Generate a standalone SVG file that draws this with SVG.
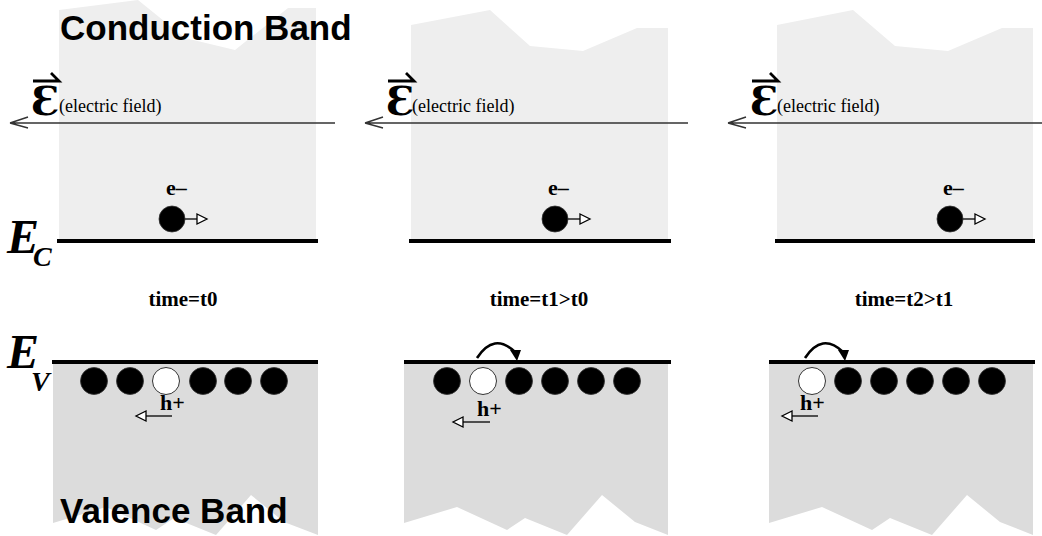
<svg xmlns="http://www.w3.org/2000/svg" width="1042" height="536" viewBox="0 0 1042 536">
<defs>
<style>
.cb{fill:#eeeeee}
.vb{fill:#dcdcdc}
.lvl{stroke:#000;stroke-width:4}
.fld{stroke:#333;stroke-width:1.4;fill:none}
.thin{stroke:#000;stroke-width:1.3;fill:none}
.head{fill:#fff;stroke:#000;stroke-width:1.3}
.el{fill:#000;stroke:#333;stroke-width:0.8}
.hole{fill:#fff;stroke:#333;stroke-width:1}
.big{font-family:"Liberation Sans",Arial,sans-serif;font-weight:bold;font-size:35px;fill:#000}
.lab{font-family:"Liberation Serif","Times New Roman",serif;font-weight:bold;font-size:22px;fill:#000}
.time{font-family:"Liberation Serif","Times New Roman",serif;font-weight:bold;font-size:21px;fill:#000}
.eps{font-family:"DejaVu Serif",serif;font-weight:bold;font-size:40px;fill:#000}
.ef{font-family:"Liberation Serif","Times New Roman",serif;font-size:18px;fill:#000}
.E{font-family:"Liberation Serif","Times New Roman",serif;font-weight:bold;font-style:italic;font-size:48px;fill:#000}
.curve{stroke:#000;stroke-width:2.6;fill:none}
</style>
</defs>

<g id="bands">
<polygon class="cb" points="59,10 138,0 185,38 235,50 288,8 316,8 316,241 59,241"/>
<polygon class="cb" points="411,25 490,10 530,46 583,51 637,28 668,28 668,241 411,241"/>
<polygon class="cb" points="777,25 853,10 895,46 948,51 1002,28 1033,28 1033,241 777,241"/>
<polygon class="vb" points="53,362 318,362 318,535 284,522 251,495 216,535 174,518 156,530 106,507 53,523"/>
<polygon class="vb" points="404,362 668,362 668,535 635,522 602,495 567,535 525,518 507,530 457,507 404,523"/>
<polygon class="vb" points="769,362 1033,362 1033,535 1000,522 967,495 932,535 890,518 872,530 822,507 769,523"/>
</g>

<g id="titles">
<text class="big" x="60" y="40">Conduction Band</text>
<text class="big" x="60" y="523">Valence Band</text>
</g>

<g id="level-labels">
<text class="E" x="7" y="253">E<tspan font-size="28" dx="-6" dy="13">C</tspan></text>
<text class="E" x="7" y="368">E<tspan font-size="28" dx="-8" dy="23">V</tspan></text>
</g>

<g id="connectors">
<line class="lvl" x1="57" y1="241" x2="318" y2="241"/>
<line class="lvl" x1="409" y1="241" x2="671" y2="241"/>
<line class="lvl" x1="775" y1="241" x2="1035" y2="241"/>
<line class="lvl" x1="52" y1="362" x2="318" y2="362"/>
<line class="lvl" x1="404" y1="362" x2="671" y2="362"/>
<line class="lvl" x1="769" y1="362" x2="1035" y2="362"/>

<path class="fld" d="M10,123 H335 M10,123 L28,117 M10,123 L28,128"/>
<path class="fld" d="M365,123 H688 M365,123 L383,117 M365,123 L383,128"/>
<path class="fld" d="M728,123 H1042 M728,123 L746,117 M728,123 L746,128"/>

<line class="thin" x1="185" y1="219" x2="197" y2="219"/>
<polygon class="head" points="197,214 207,219 197,224"/>
<line class="thin" x1="568" y1="219" x2="580" y2="219"/>
<polygon class="head" points="580,214 590,219 580,224"/>
<line class="thin" x1="963" y1="219" x2="975" y2="219"/>
<polygon class="head" points="975,214 985,219 975,224"/>

<line class="thin" x1="172" y1="416" x2="146" y2="416"/>
<polygon class="head" points="146,411 136,416 146,421"/>
<line class="thin" x1="490" y1="422" x2="463" y2="422"/>
<polygon class="head" points="463,417 453,422 463,427"/>
<line class="thin" x1="818" y1="416" x2="792" y2="416"/>
<polygon class="head" points="792,411 782,416 792,421"/>

<path class="curve" d="M477,358 Q494,332 515,352"/>
<polygon points="510,350 521,350 517,361" fill="#000"/>
<path class="curve" d="M805,358 Q822,332 843,352"/>
<polygon points="838,350 849,350 845,361" fill="#000"/>
</g>

<g id="field1">
<text class="eps" x="31" y="115">Ɛ</text>
<path d="M33,81 H59 L51,73" stroke="#000" stroke-width="2.8" fill="none"/>
<text class="ef" x="59" y="112">(electric field)</text>
</g>
<g id="field2">
<text class="eps" x="386" y="115">Ɛ</text>
<path d="M388,81 H414 L406,73" stroke="#000" stroke-width="2.8" fill="none"/>
<text class="ef" x="412" y="112">(electric field)</text>
</g>
<g id="field3">
<text class="eps" x="750" y="115">Ɛ</text>
<path d="M752,81 H778 L770,73" stroke="#000" stroke-width="2.8" fill="none"/>
<text class="ef" x="777" y="112">(electric field)</text>
</g>

<g id="electron1">
<circle class="el" cx="172" cy="219" r="13"/>
<text class="lab" x="166" y="195">e–</text>
</g>
<g id="electron2">
<circle class="el" cx="555" cy="219" r="13"/>
<text class="lab" x="548" y="195">e–</text>
</g>
<g id="electron3">
<circle class="el" cx="950" cy="219" r="13"/>
<text class="lab" x="943" y="195">e–</text>
</g>

<g id="time-labels">
<text class="time" x="183" y="306" text-anchor="middle">time=t0</text>
<text class="time" x="539" y="306" text-anchor="middle">time=t1&gt;t0</text>
<text class="time" x="904" y="306" text-anchor="middle">time=t2&gt;t1</text>
</g>

<g id="valence1">
<circle class="el" cx="94" cy="381" r="13.5"/>
<circle class="el" cx="130" cy="381" r="13.5"/>
<circle class="hole" cx="166" cy="381" r="13.5"/>
<circle class="el" cx="203" cy="381" r="13.5"/>
<circle class="el" cx="238" cy="381" r="13.5"/>
<circle class="el" cx="274" cy="381" r="13.5"/>
<text class="lab" x="160" y="410">h+</text>
</g>
<g id="valence2">
<circle class="el" cx="447" cy="381" r="13.5"/>
<circle class="hole" cx="483" cy="381" r="13.5"/>
<circle class="el" cx="519" cy="381" r="13.5"/>
<circle class="el" cx="555" cy="381" r="13.5"/>
<circle class="el" cx="591" cy="381" r="13.5"/>
<circle class="el" cx="627" cy="381" r="13.5"/>
<text class="lab" x="477" y="416">h+</text>
</g>
<g id="valence3">
<circle class="hole" cx="812" cy="381" r="13.5"/>
<circle class="el" cx="848" cy="381" r="13.5"/>
<circle class="el" cx="884" cy="381" r="13.5"/>
<circle class="el" cx="920" cy="381" r="13.5"/>
<circle class="el" cx="956" cy="381" r="13.5"/>
<circle class="el" cx="992" cy="381" r="13.5"/>
<text class="lab" x="800" y="410">h+</text>
</g>
</svg>
